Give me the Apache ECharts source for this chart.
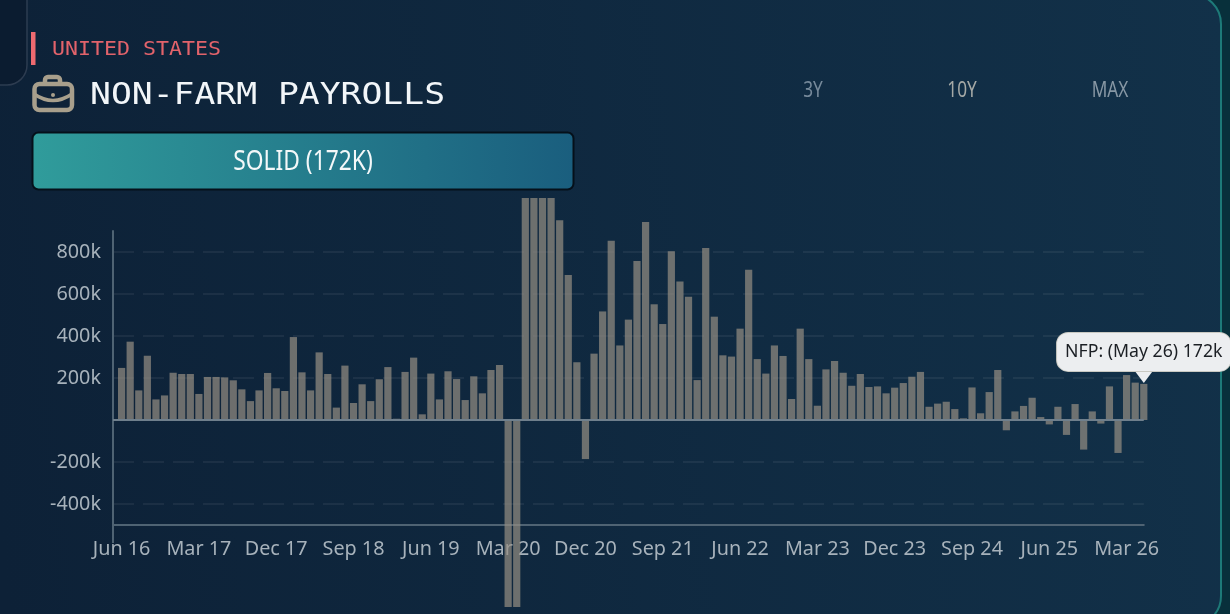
<!DOCTYPE html>
<html><head><meta charset="utf-8">
<style>html,body{margin:0;padding:0;background:#08303b;overflow:hidden}#c{width:1230px;height:614px}</style>
<script src="https://cdn.jsdelivr.net/npm/echarts@6/dist/echarts.min.js"></script>
</head><body><div id="c"></div>
<script>
const monthNames = ['Jan','Feb','Mar','Apr','May','Jun','Jul','Aug','Sep','Oct','Nov','Dec'];
const payrolls = [
248,373,141,306,98,117,225,219,219,124,205,205,203,189,146,90,141,224,151,138,
395,227,141,322,219,59,259,81,170,90,194,252,6,229,297,27,221,98,232,195,
95,208,127,238,262,-890,-890,1057,1057,1057,1057,951,690,275,-186,316,517,854,355,478,
757,943,551,457,803,659,587,190,819,492,308,302,435,716,290,221,355,305,100,435,
290,68,241,281,225,163,219,157,160,127,154,176,206,229,63,78,87,52,8,155,
32,133,238,-49,41,67,106,14,-21,63,-71,76,-141,41,-17,160,-157,214,178,172];
const yTicks = [-400,-200,200,400,600,800];
const periods = ['3Y','10Y','MAX'];
const categories = [''];
for (let i = 0, m = 5, y = 16; i < payrolls.length; i++) {
  categories.push(monthNames[m] + ' ' + y);
  if (++m === 12) { m = 0; y++; }
}
const seriesData = [null].concat(payrolls);
const last = categories.length - 1;
const labelFont = '"Noto Sans"';
const mono = '"DejaVu Sans Mono"';
const chart = echarts.init(document.getElementById('c'), null, {renderer:'canvas'});
const txt = (text,x,y,fill,font,align,sx,sy) => ({type:'text',z:5,x,y,scaleX:sx||1,scaleY:sy||1,
  style:{text,x:0,y:0,fill,font,textAlign:align||'left',textVerticalAlign:'middle'}});
chart.setOption({
  animation:false,
  backgroundColor:'#08303b',
  grid:{left:113,right:86.2,top:231,bottom:89,containLabel:false},
  xAxis:{type:'category',data:categories,boundaryGap:false,
    axisLine:{onZero:false,lineStyle:{color:'#4f6373',width:2}},
    axisTick:{show:true,length:18,interval:i=>i===0,lineStyle:{color:'#4f6373',width:2}},
    splitLine:{show:false},
    axisLabel:{interval:i=>i>0&&(i-1)%9===0,margin:14,color:'#a7b2bb',fontFamily:labelFont,fontSize:19.8,hideOverlap:false}},
  yAxis:{type:'value',min:-500,max:900,interval:100,
    axisLine:{show:true,lineStyle:{color:'#4f6373',width:2}},
    axisTick:{show:false,customValues:yTicks},
    splitLine:{show:true,lineStyle:{color:'rgba(255,255,255,0.08)',width:1.5,type:[21,9]}},
    axisLabel:{customValues:yTicks,margin:12,color:'#a7b2bb',fontFamily:labelFont,fontSize:19.8,padding:[4,0,0,0],formatter:v=>v+'k'}},
  series:[{type:'bar',data:seriesData,barWidth:7.2,clip:false,
    itemStyle:{color:'rgba(150,143,131,0.7)'},
    markLine:{silent:true,symbol:'none',label:{show:false},lineStyle:{color:'#6f7f8c',width:2,type:'solid'},data:[{yAxis:0}]},
    markPoint:{silent:true,data:[
      {coord:[last,172],symbol:'triangle',symbolRotate:180,symbolSize:[18,12],symbolOffset:[0,-7],itemStyle:{color:'#eceef0'},label:{show:false}},
      {coord:[last,172],symbol:'rect',symbolSize:1,itemStyle:{color:'rgba(0,0,0,0)'},
       label:{show:true,position:'inside',offset:[0,-32],formatter:'NFP: ('+categories[last]+') '+payrolls[payrolls.length-1]+'k',
        color:'#1b1f24',fontFamily:labelFont,fontSize:17.7,backgroundColor:'#eceef0',borderRadius:11,padding:[10,8],
        borderColor:'#c9c9c2',borderWidth:1}}
    ]}
  }],
  graphic:{elements:[
    {type:'rect',z:-10,shape:{x:-40,y:-6,width:1261,height:632,r:30},
     style:{fill:{type:'linear',x:0,y:0.2,x2:1,y2:0,colorStops:[{offset:0,color:'#0d2137'},{offset:1,color:'#123149'}]},stroke:'#1d7a78',lineWidth:2}},
    {type:'rect',z:-9,shape:{x:-40,y:-30,width:67,height:115,r:20},style:{fill:'#0b1c30',stroke:'#2d3c50',lineWidth:1.5}},
    {type:'rect',z:5,shape:{x:31,y:32,width:4.5,height:33},style:{fill:'#ee6a70'}},
    txt('UNITED STATES',52,50,'#e2636b','21.6px '+mono,'left',1,0.88),
    txt('NON-FARM PAYROLLS',90,96,'#f2f6f9','34.7px '+mono,'left',1,0.88),
    {type:'rect',z:5,shape:{x:45,y:77,width:15,height:10,r:3},style:{fill:'none',stroke:'#a89f8c',lineWidth:4.5}},
    {type:'rect',z:5,shape:{x:34.5,y:84,width:37.5,height:26,r:5},style:{fill:'#0e2238',stroke:'#a89f8c',lineWidth:4.5}},
    {type:'bezierCurve',z:5,shape:{x1:34,y1:94,x2:72,y2:94,cpx1:53,cpy1:107},style:{fill:'none',stroke:'#a89f8c',lineWidth:3.5}},
    {type:'circle',z:5,shape:{cx:53,cy:95,r:2},style:{fill:'#a89f8c'}},
    {type:'rect',z:5,shape:{x:32.5,y:132.5,width:541,height:57,r:6},
     style:{fill:{type:'linear',x:0,y:0,x2:1,y2:0,colorStops:[{offset:0,color:'#309c9b'},{offset:1,color:'#1a5e7e'}]},stroke:'#05101a',lineWidth:2}},
    txt('SOLID (172K)',303,162,'#f4f8f9','26.5px "Noto Sans"','center',0.86,1),
    txt(periods[0],813,91,'#76899a','21px "Noto Sans"','center',0.82,1),
    txt(periods[1],962,91,'#a5a9a6','21px "Noto Sans"','center',0.82,1),
    txt(periods[2],1110,91,'#8797a4','21px "Noto Sans"','center',0.82,1)
  ]}
});
</script></body></html>
